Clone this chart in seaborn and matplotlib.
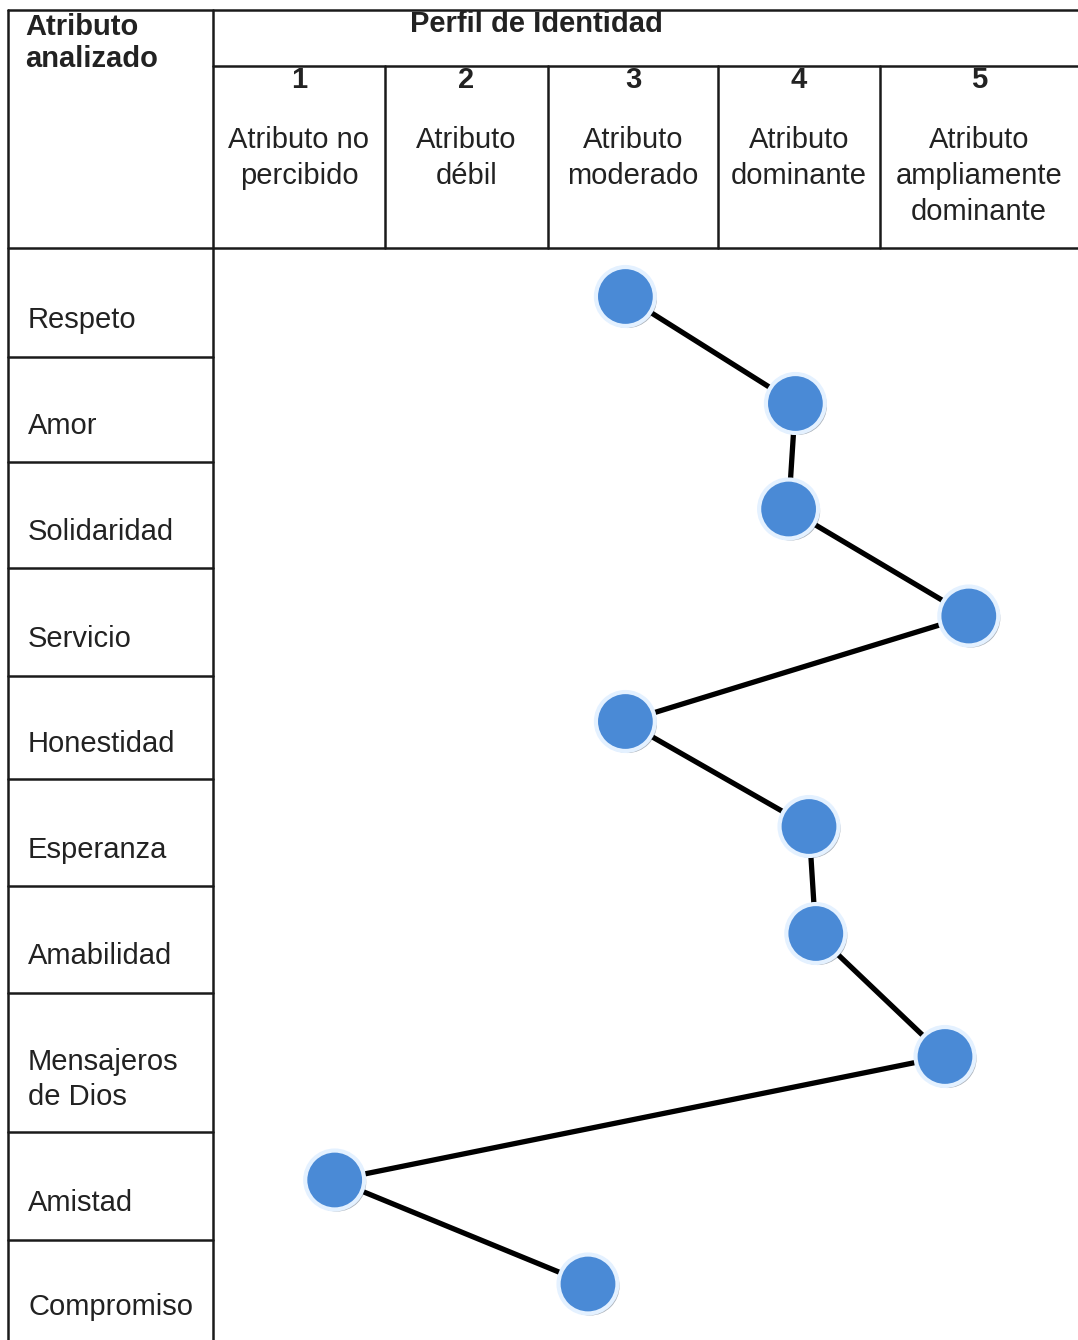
import numpy as np
import pandas as pd
import matplotlib
matplotlib.use('Agg')
import matplotlib.pyplot as plt
import matplotlib.patheffects as pe
import seaborn as sns

# Data
attributes = ['Respeto', 'Amor', 'Solidaridad', 'Servicio', 'Honestidad',
              'Esperanza', 'Amabilidad', 'Mensajeros\nde Dios', 'Amistad', 'Compromiso']
scores = [2.92, 3.92, 3.88, 4.94, 2.92, 4.0, 4.04, 4.8, 1.21, 2.7]
levels = ['1', '2', '3', '4', '5']
level_labels = ['Atributo no\npercibido', 'Atributo\ndébil', 'Atributo\nmoderado',
                'Atributo\ndominante', 'Atributo\nampliamente\ndominante']

# Table layout (pixels)
W, H = 1078, 1340
left_x, split_x = 8, 213
col_edges = [213, 385, 548, 718, 880, 1078]
top_y, sub_y, head_y = 10, 66, 248
row_edges = [248, 357, 462, 568, 676, 779, 886, 993, 1132, 1240, 1340]

sns.set_theme(style='white')
plt.rcParams['font.family'] = ['Liberation Sans', 'DejaVu Sans']
txt = '#222222'
fs = 21

fig = plt.figure(figsize=(W / 100, H / 100), dpi=100)
tab = fig.add_axes([0, 0, 1, 1])
tab.set_xlim(0, W)
tab.set_ylim(H, 0)
tab.axis('off')

lw = 1.8
lc = '#1a1a1a'
# table lines
tab.plot([left_x, W], [top_y, top_y], color=lc, lw=lw)
tab.plot([split_x, W], [sub_y, sub_y], color=lc, lw=lw)
tab.plot([left_x, W], [head_y, head_y], color=lc, lw=lw)
tab.plot([left_x, left_x], [top_y, H], color=lc, lw=lw)
tab.plot([split_x, split_x], [top_y, H], color=lc, lw=lw)
for x in col_edges[1:-1]:
    tab.plot([x, x], [sub_y, head_y], color=lc, lw=lw)
for y in row_edges[1:-1]:
    tab.plot([left_x, split_x], [y, y], color=lc, lw=lw)

# header texts
tab.text(25, 43, 'Atributo\nanalizado', fontsize=fs, fontweight='bold', color=txt,
         ha='left', va='center', linespacing=1.2)
tab.text(536, 24, 'Perfil de Identidad', fontsize=fs, fontweight='bold', color=txt,
         ha='center', va='center')
for i in range(5):
    cx = (col_edges[i] + col_edges[i + 1]) / 2
    tab.text(cx, 80, levels[i], fontsize=fs, fontweight='bold', color=txt,
             ha='center', va='center')
    tab.text(cx, 126, level_labels[i], fontsize=fs, color=txt,
             ha='center', va='top', linespacing=1.37)

# row labels
row_centers = [(row_edges[i] + row_edges[i + 1]) / 2 for i in range(len(attributes))]
for name, yc in zip(attributes, row_centers):
    tab.text(28, yc + 17, name, fontsize=fs, color=txt, ha='left', va='center',
             linespacing=1.3)

# profile line in body axes: x in score units, y in pixels
x_lo = 1 - (299 - 213) / 170
x_hi = 5 + (1078 - 979) / 170
ax = fig.add_axes([split_x / W, 0, 1 - split_x / W, 1 - head_y / H])
ax.set_xlim(x_lo, x_hi)
ax.set_ylim(H, head_y)
ax.axis('off')
ax.patch.set_alpha(0)

df = pd.DataFrame({'score': scores, 'y': [c - 6 for c in row_centers]})
sns.lineplot(data=df, x='score', y='y', sort=False, estimator=None, color='black',
             lw=3.8, ax=ax, zorder=2)
sns.scatterplot(data=df, x='score', y='y', s=1800, color='#4a8ad6', edgecolor='#e4f1ff',
                linewidth=3, ax=ax, zorder=3,
                path_effects=[pe.SimplePatchShadow(offset=(1.5, -1.5), alpha=0.35),
                              pe.Normal()])

fig.savefig('out.png', dpi=100, facecolor='white')
